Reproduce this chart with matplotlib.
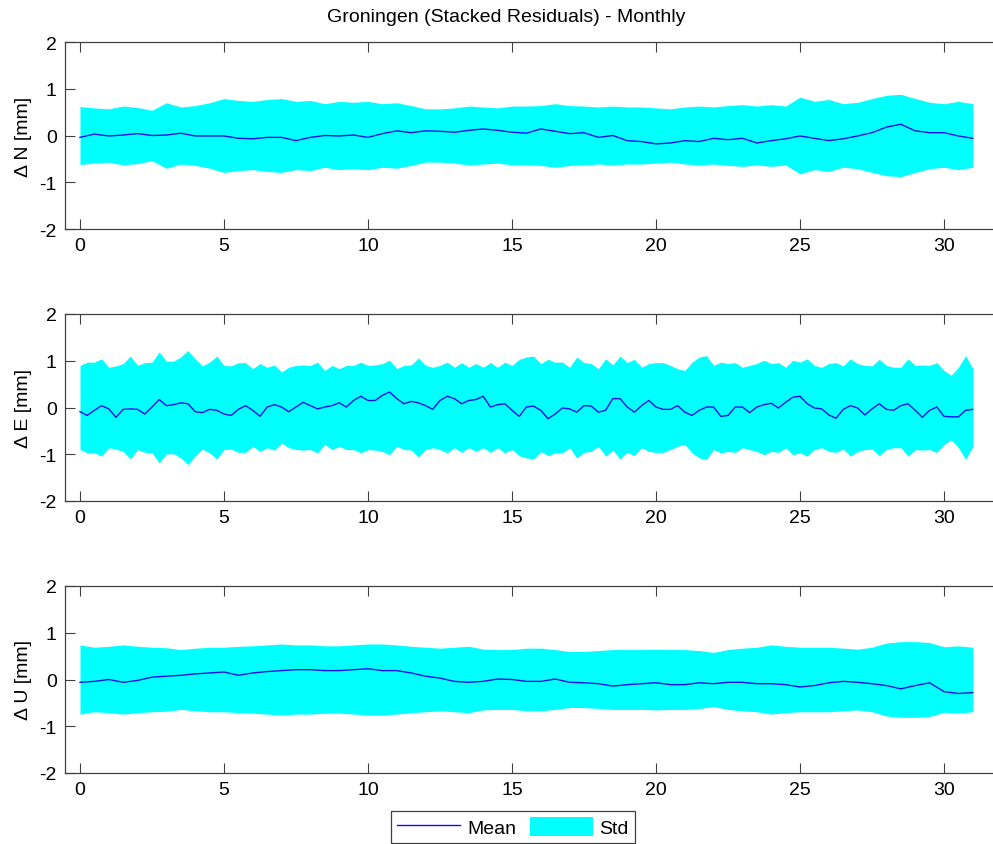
import numpy as np
import matplotlib
matplotlib.use('Agg')
import matplotlib.pyplot as plt

plt.rcParams['font.family'] = ['Liberation Sans', 'DejaVu Sans']
plt.rcParams['axes.unicode_minus'] = False

TITLE = 'Groningen (Stacked Residuals) - Monthly'
LABELS = ['\u0394 N [mm]', '\u0394 E [mm]', '\u0394 U [mm]']

# days of month
x_n = np.arange(0, 31.01, 0.5)
x_e = np.arange(0, 31.01, 0.25)
x_u = np.arange(0, 31.01, 0.5)

# North
mean_n = [-0.04, 0.03, -0.01, 0.01, 0.04, 0.0, 0.01, 0.05, -0.01, -0.01, -0.01, -0.06, -0.07, -0.04, -0.04, -0.11,
          -0.04, 0.0, -0.01, 0.01, -0.04, 0.04, 0.1, 0.06, 0.1, 0.09, 0.07, 0.11, 0.14, 0.11, 0.07, 0.05,
          0.14, 0.09, 0.04, 0.06, -0.04, 0.0, -0.11, -0.13, -0.18, -0.16, -0.11, -0.13, -0.06, -0.09, -0.06, -0.16,
          -0.11, -0.07, -0.01, -0.06, -0.11, -0.07, -0.01, 0.06, 0.18, 0.24, 0.1, 0.06, 0.06, -0.01, -0.06]
std_n = [0.62, 0.59, 0.57, 0.63, 0.6, 0.54, 0.7, 0.61, 0.64, 0.7, 0.79, 0.75, 0.73, 0.77, 0.79, 0.73,
         0.75, 0.68, 0.73, 0.71, 0.73, 0.68, 0.7, 0.64, 0.57, 0.57, 0.59, 0.63, 0.61, 0.59, 0.63, 0.63,
         0.64, 0.68, 0.64, 0.63, 0.61, 0.63, 0.61, 0.61, 0.59, 0.57, 0.61, 0.63, 0.61, 0.64, 0.66, 0.63,
         0.66, 0.63, 0.82, 0.73, 0.77, 0.68, 0.71, 0.79, 0.86, 0.88, 0.79, 0.71, 0.68, 0.73, 0.68]

# East
mean_e = [-0.09, -0.17, -0.06, 0.04, -0.03, -0.21, -0.04, -0.03, -0.04, -0.14, 0.01, 0.17, 0.04, 0.06, 0.1, 0.08,
          -0.09, -0.11, -0.04, -0.06, -0.14, -0.17, -0.04, 0.04, -0.06, -0.19, 0.01, 0.06, 0.01, -0.09, 0.01, 0.11,
          0.04, -0.03, 0.01, 0.04, 0.1, 0.01, 0.15, 0.24, 0.15, 0.15, 0.26, 0.33, 0.19, 0.08, 0.13, 0.1,
          0.04, -0.04, 0.15, 0.24, 0.19, 0.08, 0.15, 0.17, 0.24, 0.01, 0.06, 0.08, -0.06, -0.19, 0.01, 0.03,
          -0.06, -0.24, -0.14, -0.01, -0.03, -0.1, 0.04, 0.03, -0.1, -0.06, 0.19, 0.19, 0.01, -0.1, 0.04, 0.15,
          0.01, -0.04, -0.04, 0.04, -0.1, -0.17, -0.06, 0.01, 0.01, -0.19, -0.17, 0.01, 0.01, -0.11, 0.01, 0.06,
          0.09, -0.01, 0.11, 0.22, 0.24, 0.08, -0.01, -0.03, -0.16, -0.23, -0.04, 0.04, -0.01, -0.16, -0.03, 0.08,
          -0.04, -0.06, 0.04, 0.08, -0.06, -0.21, -0.06, 0.01, -0.19, -0.2, -0.2, -0.06, -0.04]
std_e = [0.9, 0.97, 0.97, 1.04, 0.86, 0.89, 0.94, 1.1, 0.9, 0.96, 0.97, 1.19, 0.99, 0.99, 1.08, 1.22,
         1.04, 0.89, 0.97, 1.1, 0.9, 0.89, 0.96, 0.96, 0.83, 0.94, 0.86, 0.91, 0.76, 0.86, 0.9, 0.91,
         0.9, 0.97, 0.79, 0.9, 0.83, 0.9, 0.9, 0.97, 0.9, 0.91, 0.94, 1.01, 0.83, 0.9, 0.91, 1.06,
         0.9, 0.86, 0.9, 0.97, 0.86, 0.96, 0.86, 0.94, 0.86, 0.96, 0.86, 0.97, 0.9, 1.03, 1.08, 1.1,
         0.94, 1.03, 0.97, 0.97, 0.86, 1.08, 0.96, 0.94, 0.83, 1.04, 0.91, 1.1, 0.96, 1.03, 0.86, 0.94,
         0.96, 0.96, 0.9, 0.83, 0.79, 0.97, 1.08, 1.11, 0.9, 0.97, 0.94, 0.96, 0.86, 0.9, 0.94, 1.01,
         0.94, 0.96, 0.86, 1.01, 0.97, 1.04, 0.9, 0.86, 0.94, 0.96, 0.89, 1.04, 0.94, 0.9, 0.89, 1.03,
         0.9, 0.86, 0.86, 1.04, 0.9, 0.91, 0.9, 0.96, 0.79, 0.69, 0.86, 1.11, 0.83]

# Up
mean_u = [-0.06, -0.04, 0.0, -0.06, -0.02, 0.05, 0.07, 0.09, 0.12, 0.14, 0.16, 0.09, 0.14, 0.17, 0.19, 0.21,
          0.21, 0.19, 0.19, 0.21, 0.23, 0.19, 0.19, 0.14, 0.07, 0.03, -0.04, -0.06, -0.04, 0.01, 0.0, -0.04,
          -0.04, 0.01, -0.06, -0.07, -0.09, -0.14, -0.11, -0.09, -0.07, -0.11, -0.11, -0.07, -0.09, -0.06, -0.06, -0.09,
          -0.09, -0.11, -0.16, -0.13, -0.07, -0.04, -0.06, -0.09, -0.13, -0.2, -0.13, -0.07, -0.26, -0.3, -0.28]
std_u = [0.74, 0.69, 0.71, 0.74, 0.71, 0.69, 0.68, 0.64, 0.67, 0.69, 0.69, 0.71, 0.72, 0.74, 0.76, 0.74,
         0.74, 0.72, 0.72, 0.74, 0.76, 0.76, 0.74, 0.71, 0.69, 0.67, 0.69, 0.71, 0.65, 0.64, 0.64, 0.67,
         0.67, 0.64, 0.6, 0.6, 0.62, 0.64, 0.64, 0.64, 0.65, 0.64, 0.64, 0.62, 0.58, 0.64, 0.67, 0.69,
         0.74, 0.71, 0.69, 0.69, 0.69, 0.67, 0.65, 0.69, 0.78, 0.81, 0.81, 0.79, 0.7, 0.72, 0.69]

panels = [(x_n, mean_n, std_n), (x_e, mean_e, std_e), (x_u, mean_u, std_u)]

W, H = 993, 845
fig = plt.figure(figsize=(W / 100, H / 100), dpi=100)

left = 65 / W
width = (993 - 65) / W
tops = [43, 315, 587]
ax_h = 187
FS = 14

AXCOL = '#404040'
for i, (x, m, s) in enumerate(panels):
    ax = fig.add_axes([left, 1 - (tops[i] + ax_h) / H, width, ax_h / H])
    s = np.array(s)
    band = ax.fill_between(x, -s, s, color='#00ffff', linewidth=0, label='Std')
    line, = ax.plot(x, m, color='#1010ee', linewidth=1, label='Mean')
    ax.set_xlim(-0.52, 31.7)
    ax.set_ylim(-2, 2)
    ax.set_xticks([0, 5, 10, 15, 20, 25, 30])
    ax.set_yticks([-2, -1, 0, 1, 2])
    ax.tick_params(direction='in', length=7, width=0.8, color=AXCOL,
                   top=True, right=False, labelsize=FS, pad=6)
    ax.spines['right'].set_visible(False)
    for sp in ['left', 'top', 'bottom']:
        ax.spines[sp].set_color(AXCOL)
        ax.spines[sp].set_linewidth(0.9)
    ax.set_ylabel(LABELS[i], fontsize=FS)
    ax.yaxis.set_label_coords(-0.036, 0.5)

fig.text(506 / W, 1 - 18 / H, TITLE, ha='center', va='center', fontsize=FS)

leg = fig.legend([line, band], ['Mean', 'Std'], loc='upper center', ncol=2,
                 bbox_to_anchor=(513 / W, 1 - 812 / H), fontsize=FS,
                 fancybox=False, framealpha=1, edgecolor=AXCOL,
                 handlelength=3.25, handleheight=1.15, columnspacing=0.7,
                 handletextpad=0.35, borderpad=0.3, borderaxespad=0)
leg.get_frame().set_linewidth(0.9)

fig.savefig('out.png', dpi=100)
